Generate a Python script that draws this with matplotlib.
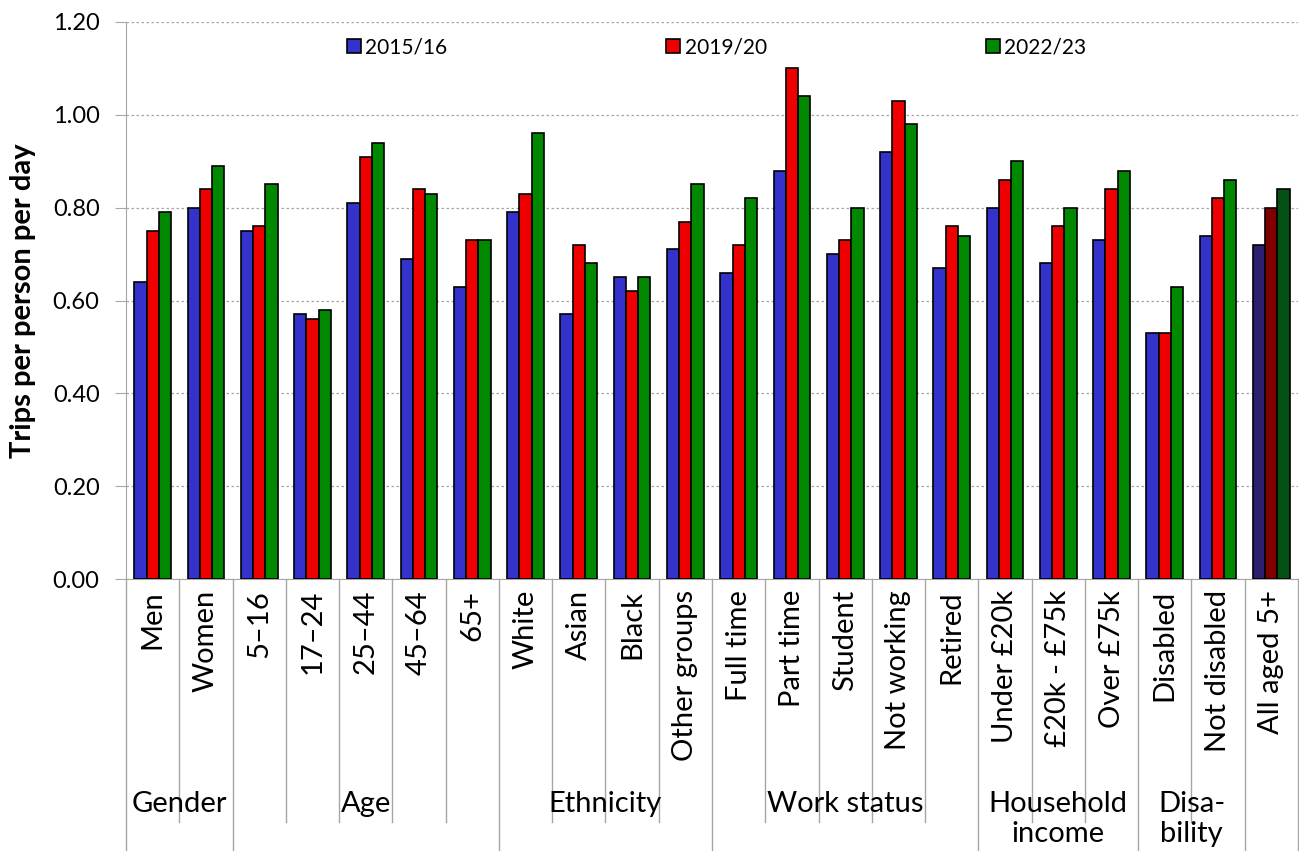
import numpy as np
import matplotlib.pyplot as plt
from matplotlib.lines import Line2D
from matplotlib.transforms import blended_transform_factory

plt.rcParams['font.family'] = ['Lato', 'DejaVu Sans']

# ---------- data ----------
categories = ["Men", "Women", "5-16", "17-24", "25-44", "45-64", "65+",
              "White", "Asian", "Black", "Other groups",
              "Full time", "Part time", "Student", "Not working", "Retired",
              "Under £20k", "£20k - £75k", "Over £75k",
              "Disabled", "Not disabled", "All aged 5+"]
tick_labels = ["Men", "Women", "5\u201316", "17\u201324", "25\u201344", "45\u201364", "65+",
               "White", "Asian", "Black", "Other groups",
               "Full time", "Part time", "Student", "Not working", "Retired",
               "Under £20k", "£20k - £75k", "Over £75k",
               "Disabled", "Not disabled", "All aged 5+"]

y2015 = [0.64, 0.80, 0.75, 0.57, 0.81, 0.69, 0.63, 0.79, 0.57, 0.65, 0.71,
         0.66, 0.88, 0.70, 0.92, 0.67, 0.80, 0.68, 0.73, 0.53, 0.74, 0.72]
y2019 = [0.75, 0.84, 0.76, 0.56, 0.91, 0.84, 0.73, 0.83, 0.72, 0.62, 0.77,
         0.72, 1.10, 0.73, 1.03, 0.76, 0.86, 0.76, 0.84, 0.53, 0.82, 0.80]
y2022 = [0.79, 0.89, 0.85, 0.58, 0.94, 0.83, 0.73, 0.96, 0.68, 0.65, 0.85,
         0.82, 1.04, 0.80, 0.98, 0.74, 0.90, 0.80, 0.88, 0.63, 0.86, 0.84]

series_names = ["2015/16", "2019/20", "2022/23"]

# groups: (label, first index, last index)
groups = [("Gender", 0, 1), ("Age", 2, 6), ("Ethnicity", 7, 10),
          ("Work status", 11, 15), ("Household\nincome", 16, 18),
          ("Disa-\nbility", 19, 20), ("", 21, 21)]

# ---------- style ----------
colors = ["#3333CC", "#EE0000", "#008800"]
dark_colors = ["#2B1F70", "#800000", "#044F14"]
grey = "#A6A6A6"

W, H = 1299, 851
fig = plt.figure(figsize=(W / 100, H / 100), dpi=100)
ax = fig.add_axes([126 / W, 1 - 579 / H, (1298 - 126) / W, (579 - 22) / H])

x = np.arange(len(categories))
bw = 0.23
for k, vals in enumerate([y2015, y2019, y2022]):
    cols = [colors[k]] * (len(categories) - 1) + [dark_colors[k]]
    ax.bar(x + (k - 1) * bw, vals, bw, color=cols, edgecolor="black",
           linewidth=1.2, zorder=3)

ax.set_xlim(-0.5, len(categories) - 0.5)
ax.set_ylim(0, 1.2)
ax.set_yticks(np.arange(0, 1.21, 0.2))
ax.set_yticklabels([f"{v:.2f}" for v in np.arange(0, 1.21, 0.2)], fontsize=17)
ax.yaxis.grid(True, linestyle=(0, (2, 2)), color=grey, linewidth=0.9, zorder=0)
ax.tick_params(axis="y", length=8, color=grey, pad=11)
ax.set_xticks([])
for s in ["top", "right"]:
    ax.spines[s].set_visible(False)
ax.spines["left"].set_color(grey)
ax.spines["bottom"].set_color(grey)
ax.set_ylabel("Trips per person per day", fontsize=21, fontweight="bold", labelpad=12)

# ---------- hierarchical x axis ----------
tr = blended_transform_factory(ax.transData, ax.transAxes)
ax_h = (579 - 22)
inner_bot = (579 - 822) / ax_h
outer_bot = (579 - 852) / ax_h
lab_top = (579 - 590) / ax_h
grp_y = (579 - 791) / ax_h

for i, lab in enumerate(tick_labels):
    ax.text(i, lab_top, lab, rotation=90, ha="center", va="top",
            fontsize=21, transform=tr)

starts = {g[1] for g in groups}
for b in range(len(categories) + 1):
    xb = b - 0.5
    bot = outer_bot if (b in starts or b == len(categories)) else inner_bot
    ax.plot([xb, xb], [0, bot], color=grey, linewidth=1, transform=tr,
            clip_on=False)

for name, i0, i1 in groups:
    if name:
        ax.text((i0 + i1) / 2, grp_y, name, ha="center", va="top",
                fontsize=21, linespacing=1.2, transform=tr)

# ---------- legend ----------
handles = [Line2D([], [], marker="s", linestyle="none", markersize=10,
                  markerfacecolor=c, markeredgecolor="black", markeredgewidth=1.2)
           for c in colors]
ax.legend(handles, series_names, ncol=3, frameon=False, fontsize=15,
          loc="center", bbox_to_anchor=(0.503, 1 - (47 - 22) / ax_h),
          columnspacing=10.4, handletextpad=0.1, handlelength=0.9)

fig.savefig("out.png", dpi=100)
